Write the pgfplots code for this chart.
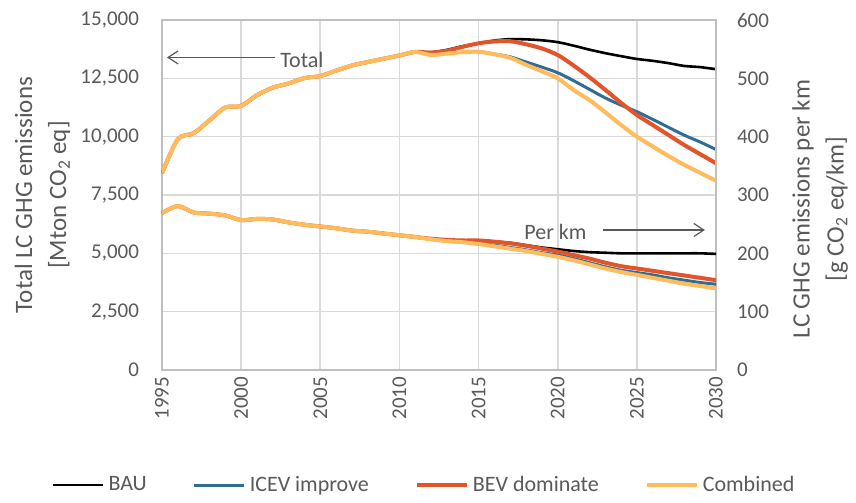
\documentclass[border=0pt]{standalone}
\usepackage{fontspec}
\setmainfont{Carlito}
\usepackage{pgfplots}
\pgfplotsset{compat=1.18}
\usepackage{pgfplotstable}
\usetikzlibrary{arrows.meta}
\definecolor{cBAU}{HTML}{000000}
\definecolor{cICEV}{HTML}{2E6E96}
\definecolor{cBEV}{HTML}{E2542A}
\definecolor{cComb}{HTML}{FFBB5C}
\definecolor{txt}{HTML}{595959}
\definecolor{gridc}{HTML}{D9D9D9}
\definecolor{axc}{HTML}{BFBFBF}

\pgfplotstableread{
year bau icev bev comb baukm icevkm bevkm combkm
1995 8430 8430 8430 8430 269 269 269 269
1996 9890 9890 9890 9890 281 281 281 281
1997 10150 10150 10150 10150 270 270 270 270
1998 10700 10700 10700 10700 268 268 268 268
1999 11250 11250 11250 11250 265 265 265 265
2000 11320 11320 11320 11320 257 257 257 257
2001 11780 11780 11780 11780 259 259 259 259
2002 12100 12100 12100 12100 258 258 258 258
2003 12280 12280 12280 12280 253 253 253 253
2004 12510 12510 12510 12510 249 249 249 249
2005 12600 12600 12600 12600 246 246 246 246
2006 12830 12830 12830 12830 243 243 243 243
2007 13050 13050 13050 13050 239 239 239 239
2008 13200 13200 13200 13200 237 237 237 237
2009 13340 13340 13340 13340 234 234 234 234
2010 13480 13480 13480 13480 231 231 231 231
2011 13630 13630 13630 13630 228 228 228 228
2012 13620 13500 13600 13500 225 224 225 224
2013 13720 13560 13680 13560 223 221 223 221
2014 13880 13620 13850 13620 222 219 222 219
2015 14000 13640 14000 13640 222 217 222 216
2016 14120 13540 14080 13530 220 214 220 212
2017 14180 13420 14090 13380 218 210 217 208
2018 14170 13200 13960 13080 214 206 213 204
2019 14130 12980 13780 12800 210 201 208 199
2020 14050 12740 13500 12500 207 197 203 194
2021 13900 12400 13050 12000 204 191 197 188
2022 13730 12030 12550 11570 202 184 191 181
2023 13580 11660 12010 11050 201 177 184 174
2024 13450 11350 11450 10500 200 171 178 168
2025 13330 11070 10930 10000 200 167 174 163
2026 13250 10740 10500 9580 200 163 170 158
2027 13150 10400 10070 9170 200 158 166 153
2028 13030 10060 9640 8790 200 154 162 148
2029 12980 9770 9250 8450 200 150 158 144
2030 12890 9450 8860 8110 199 147 154 140
}\data

\begin{document}
\begin{tikzpicture}
\pgfplotsset{
  common/.style={
    width=277pt, height=175pt, scale only axis,
    at={(0,0)}, anchor=south west,
    xmin=1995, xmax=2030,
    every tick label/.append style={font=\fontsize{10.5}{12}\selectfont, text=txt},
    major tick length=0pt,
    /pgf/number format/assume math mode=true,
    axis line style={-, axc, line width=0.8pt},
  },
  lBAU/.style={cBAU, line width=1.3pt, smooth, tension=0.5},
  lICEV/.style={cICEV, line width=1.5pt, smooth, tension=0.5},
  lBEV/.style={cBEV, line width=2pt, smooth, tension=0.5},
  lComb/.style={cComb, line width=2pt, smooth, tension=0.5},
}
\begin{axis}[common,
  ymin=0, ymax=15000, ytick={0,2500,...,15000},
  xtick={1995,2000,...,2030},
  grid=major, major grid style={gridc, line width=0.8pt},
  xticklabel style={rotate=90, anchor=east, /pgf/number format/1000 sep={}},
  yticklabel style={/pgf/number format/1000 sep={,}, xshift=-8pt},
  scaled y ticks=false,
  ylabel={Total LC GHG emissions\\{[}Mton CO\textsubscript{2} eq{]}},
  ylabel style={at={(axis description cs:-0.2157,0.5)}, anchor=center, align=center, font=\fontsize{12.5}{17}\selectfont, text=txt},
  legend columns=4,
  legend style={draw=none, fill=none, at={(axis description cs:0.475,-0.329)}, anchor=center,
    font=\fontsize{11}{13}\selectfont, text=txt,
    /tikz/every even column/.append style={column sep=21pt}},
  legend image code/.code={\draw[#1] (0pt,0pt) -- (25pt,0pt);},
]
\addplot[lBAU] table[x=year,y=bau]{\data};
\addlegendentry{BAU}
\addplot[lICEV] table[x=year,y=icev]{\data};
\addlegendentry{ICEV improve}
\addplot[lBEV] table[x=year,y=bev]{\data};
\addlegendentry{BEV dominate}
\addplot[lComb] table[x=year,y=comb]{\data};
\addlegendentry{Combined}
\draw[txt, line width=0.6pt, -{Straight Barb[length=5pt,width=6.5pt]}] (rel axis cs:0.204,0.893) -- (rel axis cs:0.009,0.893);
\node[anchor=west, text=txt, font=\fontsize{11}{13}\selectfont, inner sep=0pt] at (rel axis cs:0.213,0.886) {Total};
\draw[txt, line width=0.6pt, -{Straight Barb[length=5pt,width=6.5pt]}] (rel axis cs:0.796,0.4) -- (rel axis cs:0.98,0.4);
\node[anchor=east, text=txt, font=\fontsize{11}{13}\selectfont, inner sep=0pt] at (rel axis cs:0.767,0.395) {Per km};
\end{axis}
\begin{axis}[common,
  ymin=0, ymax=600, ytick={0,100,...,600},
  axis x line=none, axis y line*=right, xtick=\empty,
  yticklabel style={xshift=7pt},
  ylabel={LC GHG emissions per km\\{[}g CO\textsubscript{2} eq/km{]}},
  ylabel style={at={(axis description cs:1.188,0.46)}, anchor=center, align=center, rotate=0, font=\fontsize{12.5}{17}\selectfont, text=txt},
]
\addplot[lBAU] table[x=year,y=baukm]{\data};
\addplot[lICEV] table[x=year,y=icevkm]{\data};
\addplot[lBEV] table[x=year,y=bevkm]{\data};
\addplot[lComb] table[x=year,y=combkm]{\data};
\end{axis}
\path[use as bounding box] (-81pt,-62.5pt) rectangle (347pt,185pt);
\end{tikzpicture}
\end{document}
